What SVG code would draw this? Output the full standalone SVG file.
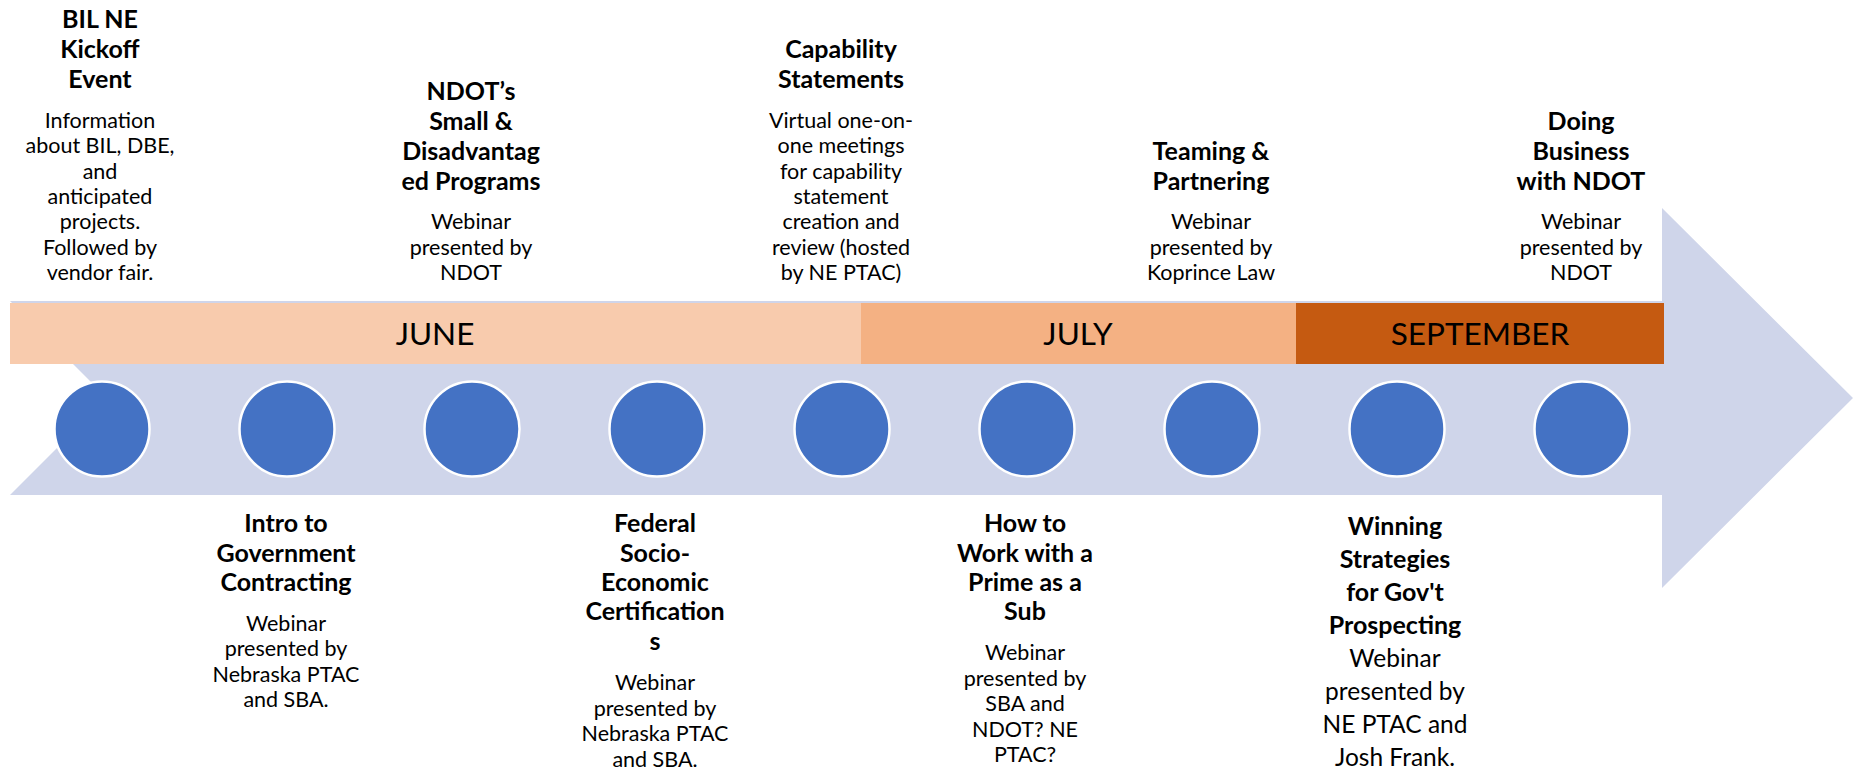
<svg xmlns="http://www.w3.org/2000/svg" width="1856" height="773" viewBox="0 0 1856 773">
<style>
text{font-family:Lato,"Liberation Sans",sans-serif;fill:#000;text-anchor:middle}
.b{font-weight:bold;font-size:25px}
.r{font-size:21.5px}
.b8{font-weight:bold;font-size:25px}
.r8{font-size:24.5px}
.m{font-size:31.5px}
.dot{fill:#4472C4;stroke:#fff;stroke-width:2.5}
</style>
<rect x="0" y="0" width="1856" height="773" fill="#fff"/>
<g id="timeline-arrow">
<path d="M10,301 L1662,301 L1662,208 L1853,398 L1662,588 L1662,495 L10,495 L107,398 Z" fill="#CFD5EA"/>
</g>
<g id="months">
<g id="june"><rect x="10" y="303" width="851" height="61" fill="#F8CBAD"/><text class="m" x="435" y="345">JUNE</text></g>
<g id="july"><rect x="861" y="303" width="435" height="61" fill="#F4B183"/><text class="m" x="1078" y="345">JULY</text></g>
<g id="september"><rect x="1296" y="303" width="368" height="61" fill="#C55A11"/><text class="m" x="1480" y="345">SEPTEMBER</text></g>
</g>
<g id="connectors"></g>
<g id="milestones">
<circle class="dot" cx="102" cy="429" r="47.5"/>
<circle class="dot" cx="287" cy="429" r="47.5"/>
<circle class="dot" cx="472" cy="429" r="47.5"/>
<circle class="dot" cx="657" cy="429" r="47.5"/>
<circle class="dot" cx="842" cy="429" r="47.5"/>
<circle class="dot" cx="1027" cy="429" r="47.5"/>
<circle class="dot" cx="1212" cy="429" r="47.5"/>
<circle class="dot" cx="1397" cy="429" r="47.5"/>
<circle class="dot" cx="1582" cy="429" r="47.5"/>
</g>
<g id="event-kickoff">
<text class="b" x="100" y="28">BIL NE</text>
<text class="b" x="100" y="58">Kickoff</text>
<text class="b" x="100" y="88">Event</text>
<text class="r" x="100" y="128">Information</text>
<text class="r" x="100" y="153">about BIL, DBE,</text>
<text class="r" x="100" y="178.5">and</text>
<text class="r" x="100" y="204">anticipated</text>
<text class="r" x="100" y="229">projects.</text>
<text class="r" x="100" y="254.5">Followed by</text>
<text class="r" x="100" y="280">vendor fair.</text>
</g>
<g id="event-intro">
<text class="b" x="286" y="532">Intro to</text>
<text class="b" x="286" y="562">Government</text>
<text class="b" x="286" y="591">Contracting</text>
<text class="r" x="286" y="631">Webinar</text>
<text class="r" x="286" y="656">presented by</text>
<text class="r" x="286" y="682">Nebraska PTAC</text>
<text class="r" x="286" y="707">and SBA.</text>
</g>
<g id="event-ndot-small">
<text class="b" x="471" y="100">NDOT’s</text>
<text class="b" x="471" y="130">Small &amp;</text>
<text class="b" x="471" y="160">Disadvantag</text>
<text class="b" x="471" y="190">ed Programs</text>
<text class="r" x="471" y="229">Webinar</text>
<text class="r" x="471" y="254.5">presented by</text>
<text class="r" x="471" y="280">NDOT</text>
</g>
<g id="event-federal">
<text class="b" x="655" y="532">Federal</text>
<text class="b" x="655" y="562">Socio-</text>
<text class="b" x="655" y="591">Economic</text>
<text class="b" x="655" y="620">Certification</text>
<text class="b" x="655" y="650">s</text>
<text class="r" x="655" y="690">Webinar</text>
<text class="r" x="655" y="715.5">presented by</text>
<text class="r" x="655" y="741">Nebraska PTAC</text>
<text class="r" x="655" y="766.5">and SBA.</text>
</g>
<g id="event-capability">
<text class="b" x="841" y="58">Capability</text>
<text class="b" x="841" y="88">Statements</text>
<text class="r" x="841" y="128">Virtual one-on-</text>
<text class="r" x="841" y="153">one meetings</text>
<text class="r" x="841" y="178.5">for capability</text>
<text class="r" x="841" y="204">statement</text>
<text class="r" x="841" y="229">creation and</text>
<text class="r" x="841" y="254.5">review (hosted</text>
<text class="r" x="841" y="280">by NE PTAC)</text>
</g>
<g id="event-prime-sub">
<text class="b" x="1025" y="532">How to</text>
<text class="b" x="1025" y="562">Work with a</text>
<text class="b" x="1025" y="591">Prime as a</text>
<text class="b" x="1025" y="620">Sub</text>
<text class="r" x="1025" y="660">Webinar</text>
<text class="r" x="1025" y="685.5">presented by</text>
<text class="r" x="1025" y="711">SBA and</text>
<text class="r" x="1025" y="736.5">NDOT? NE</text>
<text class="r" x="1025" y="762">PTAC?</text>
</g>
<g id="event-teaming">
<text class="b" x="1211" y="160">Teaming &amp;</text>
<text class="b" x="1211" y="190">Partnering</text>
<text class="r" x="1211" y="229">Webinar</text>
<text class="r" x="1211" y="254.5">presented by</text>
<text class="r" x="1211" y="280">Koprince Law</text>
</g>
<g id="event-winning">
<text class="b8" x="1395" y="535">Winning</text>
<text class="b8" x="1395" y="568">Strategies</text>
<text class="b8" x="1395" y="601">for Gov't</text>
<text class="b8" x="1395" y="634">Prospecting</text>
<text class="r8" x="1395" y="667">Webinar</text>
<text class="r8" x="1395" y="700">presented by</text>
<text class="r8" x="1395" y="733">NE PTAC and</text>
<text class="r8" x="1395" y="766">Josh Frank.</text>
</g>
<g id="event-doing-business">
<text class="b" x="1581" y="130">Doing</text>
<text class="b" x="1581" y="160">Business</text>
<text class="b" x="1581" y="190">with NDOT</text>
<text class="r" x="1581" y="229">Webinar</text>
<text class="r" x="1581" y="254.5">presented by</text>
<text class="r" x="1581" y="280">NDOT</text>
</g>
</svg>
